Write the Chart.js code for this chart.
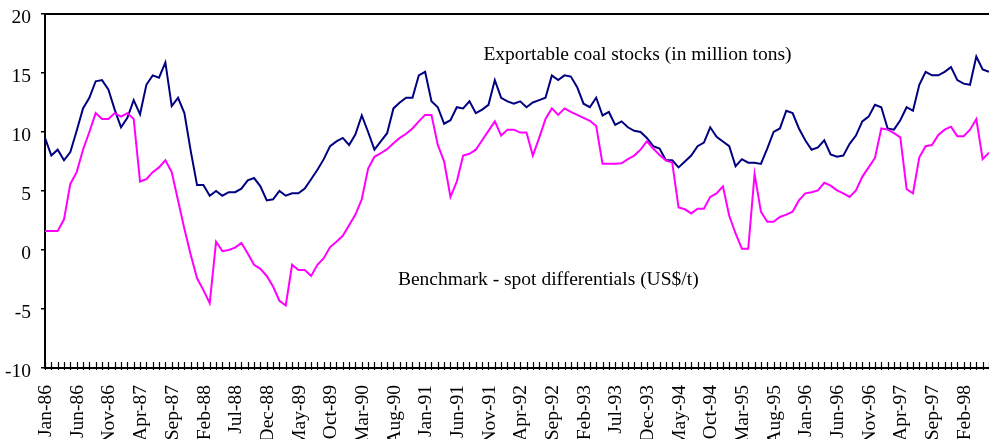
<!DOCTYPE html>
<html>
<head>
<meta charset="utf-8">
<script src="https://cdn.jsdelivr.net/npm/chart.js@4/dist/chart.umd.min.js"></script>
<style>
html,body{margin:0;padding:0;background:#ffffff;overflow:hidden;}
canvas{display:block;}
</style>
</head>
<body>
<canvas id="chart" width="989" height="439"></canvas>
<script>
const categories = [
'Jan-86','Feb-86','Mar-86','Apr-86','May-86','Jun-86','Jul-86','Aug-86','Sep-86','Oct-86','Nov-86','Dec-86',
'Jan-87','Feb-87','Mar-87','Apr-87','May-87','Jun-87','Jul-87','Aug-87','Sep-87','Oct-87','Nov-87','Dec-87',
'Jan-88','Feb-88','Mar-88','Apr-88','May-88','Jun-88','Jul-88','Aug-88','Sep-88','Oct-88','Nov-88','Dec-88',
'Jan-89','Feb-89','Mar-89','Apr-89','May-89','Jun-89','Jul-89','Aug-89','Sep-89','Oct-89','Nov-89','Dec-89',
'Jan-90','Feb-90','Mar-90','Apr-90','May-90','Jun-90','Jul-90','Aug-90','Sep-90','Oct-90','Nov-90','Dec-90',
'Jan-91','Feb-91','Mar-91','Apr-91','May-91','Jun-91','Jul-91','Aug-91','Sep-91','Oct-91','Nov-91','Dec-91',
'Jan-92','Feb-92','Mar-92','Apr-92','May-92','Jun-92','Jul-92','Aug-92','Sep-92','Oct-92','Nov-92','Dec-92',
'Jan-93','Feb-93','Mar-93','Apr-93','May-93','Jun-93','Jul-93','Aug-93','Sep-93','Oct-93','Nov-93','Dec-93',
'Jan-94','Feb-94','Mar-94','Apr-94','May-94','Jun-94','Jul-94','Aug-94','Sep-94','Oct-94','Nov-94','Dec-94',
'Jan-95','Feb-95','Mar-95','Apr-95','May-95','Jun-95','Jul-95','Aug-95','Sep-95','Oct-95','Nov-95','Dec-95',
'Jan-96','Feb-96','Mar-96','Apr-96','May-96','Jun-96','Jul-96','Aug-96','Sep-96','Oct-96','Nov-96','Dec-96',
'Jan-97','Feb-97','Mar-97','Apr-97','May-97','Jun-97','Jul-97','Aug-97','Sep-97','Oct-97','Nov-97','Dec-97',
'Jan-98','Feb-98','Mar-98','Apr-98','May-98','Jun-98'
];

// Exportable coal stocks (million tons)
const coalStocks = [
9.5,8.0,8.5,7.6,8.3,10.1,12.0,12.9,14.3,14.4,13.6,11.9,
10.4,11.2,12.7,11.5,14.0,14.8,14.6,15.9,12.2,12.9,11.6,8.4,
5.5,5.5,4.6,5.0,4.6,4.9,4.9,5.2,5.9,6.1,5.4,4.2,
4.3,5.0,4.6,4.8,4.8,5.2,6.0,6.8,7.7,8.8,9.2,9.5,
8.9,9.8,11.4,10.0,8.5,9.2,9.9,12.0,12.5,12.9,12.9,14.8,
15.1,12.6,12.1,10.7,11.0,12.1,12.0,12.6,11.6,11.9,12.3,14.4,
12.9,12.6,12.4,12.6,12.1,12.5,12.7,12.9,14.8,14.4,14.8,14.7,
13.8,12.4,12.1,12.9,11.4,11.7,10.6,10.9,10.4,10.1,10.0,9.5,
8.8,8.6,7.6,7.6,7.0,7.5,8.0,8.8,9.1,10.4,9.6,9.2,
8.8,7.1,7.7,7.4,7.4,7.3,8.6,10.0,10.3,11.8,11.6,10.3,
9.3,8.5,8.7,9.3,8.1,7.9,8.0,9.0,9.7,10.9,11.3,12.3,
12.1,10.3,10.2,11.0,12.1,11.8,14.0,15.1,14.8,14.8,15.1,15.5,
14.4,14.1,14.0,16.4,15.3,15.1
];

// Benchmark - spot differentials (US$/t)
const benchmarkSpot = [
1.6,1.6,1.6,2.6,5.6,6.6,8.5,10.0,11.6,11.1,11.1,11.6,
11.3,11.6,11.1,5.8,6.0,6.6,7.0,7.6,6.6,4.2,1.8,-0.4,
-2.4,-3.4,-4.5,0.7,-0.1,0.0,0.2,0.6,-0.3,-1.25,-1.6,-2.2,
-3.1,-4.3,-4.7,-1.25,-1.7,-1.7,-2.2,-1.25,-0.7,0.25,0.7,1.2,
2.1,3.0,4.3,6.9,7.9,8.2,8.55,9.05,9.5,9.85,10.3,10.9,
11.45,11.45,8.9,7.5,4.5,5.8,8.0,8.15,8.5,9.3,10.1,10.9,
9.7,10.2,10.2,9.95,9.95,8.0,9.5,11.1,12.0,11.45,12.0,11.7,
11.45,11.2,10.95,10.5,7.3,7.3,7.3,7.35,7.7,8.0,8.5,9.2,
8.6,8.05,7.6,7.4,3.6,3.45,3.1,3.5,3.5,4.5,4.8,5.4,
2.9,1.4,0.1,0.1,6.45,3.25,2.4,2.4,2.8,3.0,3.25,4.2,
4.8,4.9,5.05,5.7,5.45,5.05,4.8,4.5,5.05,6.2,7.0,7.8,
10.3,10.2,9.9,9.55,5.15,4.8,7.85,8.8,8.9,9.75,10.2,10.45,
9.65,9.65,10.2,11.1,7.7,8.25
];

const yMin = -10;
const yMax = 20;
const yStep = 5;
const labelEvery = 5;

const seriesNames = ['Exportable coal stocks (in million tons)', 'Benchmark - spot differentials (US$/t)'];
// annotation anchors in data units: [category index, value]
const annotationAnchors = [[69.2, 16.1], [55.7, -3.0]];

const FONT = "'Liberation Serif','Times New Roman',serif";

const decorPlugin = {
  id: 'decor',
  afterDraw(chart) {
    const ctx = chart.ctx;
    const a = chart.chartArea;
    const xs = chart.scales.x;
    const ys = chart.scales.y;
    ctx.save();
    // top border of plot area
    ctx.strokeStyle = '#000';
    ctx.lineWidth = 2;
    ctx.beginPath();
    ctx.moveTo(a.left, a.top);
    ctx.lineTo(a.right + 5, a.top);
    ctx.stroke();
    // monthly tick marks crossing the category axis
    ctx.lineWidth = 1.2;
    ctx.beginPath();
    for (let i = 0; i < xs.ticks.length; i++) {
      const px = Math.round(xs.getPixelForTick(i)) + 0.5;
      ctx.moveTo(px, a.bottom - 6);
      ctx.lineTo(px, a.bottom + 2);
    }
    ctx.stroke();
    // series annotations
    ctx.fillStyle = '#000';
    ctx.font = "19.5px " + FONT;
    ctx.textAlign = 'left';
    ctx.textBaseline = 'alphabetic';
    annotationAnchors.forEach((p, k) => {
      ctx.fillText(seriesNames[k], xs.getPixelForValue(p[0]), ys.getPixelForValue(p[1]));
    });
    ctx.restore();
  }
};

new Chart(document.getElementById('chart'), {
  type: 'line',
  data: {
    labels: categories,
    datasets: [
      {
        label: seriesNames[1],
        data: benchmarkSpot,
        borderColor: '#FF00FF',
        backgroundColor: '#FF00FF',
        borderWidth: 2,
        pointRadius: 0,
        tension: 0,
        fill: false
      },
      {
        label: seriesNames[0],
        data: coalStocks,
        borderColor: '#000080',
        backgroundColor: '#000080',
        borderWidth: 2,
        pointRadius: 0,
        tension: 0,
        fill: false
      }
    ]
  },
  options: {
    responsive: false,
    animation: false,
    devicePixelRatio: 1,
    layout: { padding: { top: 14, right: 0, bottom: 0, left: 0 } },
    plugins: { legend: { display: false }, tooltip: { enabled: false } },
    scales: {
      x: {
        type: 'category',
        offset: false,
        grid: { display: true, drawOnChartArea: false, drawTicks: false },
        border: { display: true, color: '#000', width: 2 },
        ticks: {
          autoSkip: false,
          minRotation: 90,
          maxRotation: 90,
          padding: 17,
          labelOffset: 1,
          color: '#000',
          font: { family: FONT, size: 19.5 },
          callback: function(value, index) { return index % labelEvery === 0 ? categories[index] : ''; }
        },
        afterFit(s) { s.height = 71; s.paddingLeft = 0; s.paddingRight = 0; }
      },
      y: {
        min: yMin,
        max: yMax,
        grid: { display: true, drawOnChartArea: false, drawTicks: true, tickLength: 4, color: '#000', lineWidth: 1.5 },
        border: { display: true, color: '#000', width: 2 },
        ticks: {
          stepSize: yStep,
          padding: 10,
          labelOffset: 4,
          color: '#000',
          font: { family: FONT, size: 19.5 }
        },
        afterFit(s) { s.width = 45; s.paddingTop = 0; s.paddingBottom = 0; }
      }
    }
  },
  plugins: [decorPlugin]
});
</script>
</body>
</html>
